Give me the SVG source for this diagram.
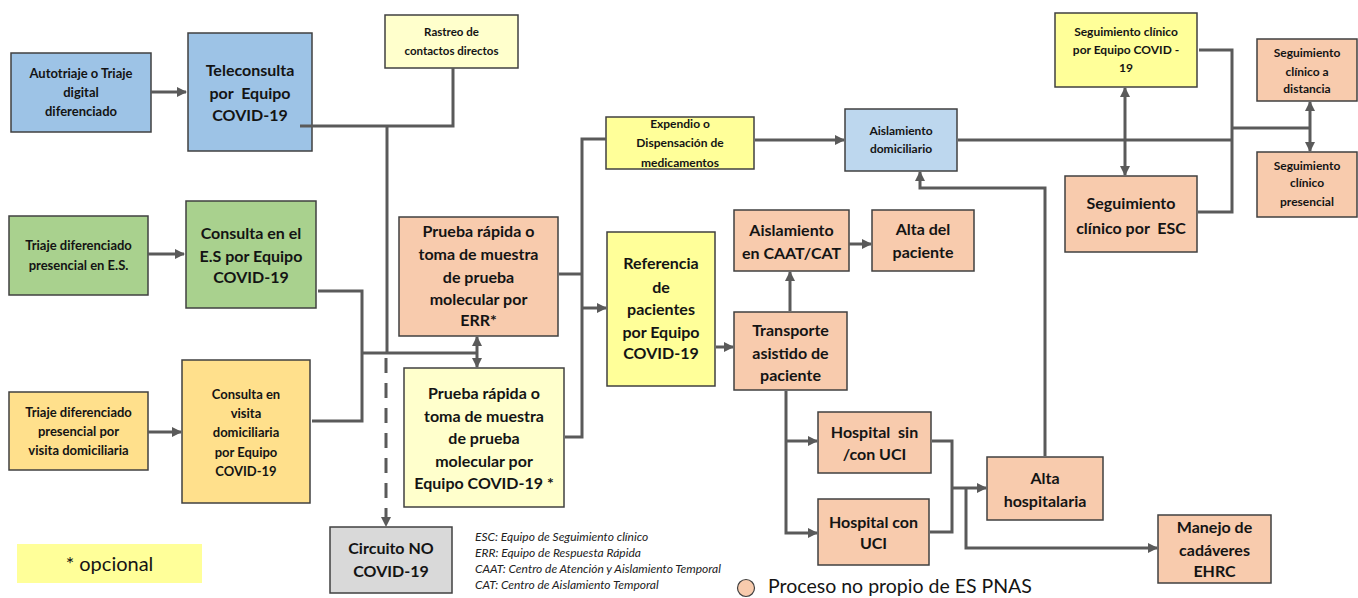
<svg xmlns="http://www.w3.org/2000/svg" width="1358" height="598" viewBox="0 0 1358 598">
<style>
.n{stroke:#404040;stroke-width:1.5}
.blue{fill:#9DC3E6}.lblue{fill:#BDD7EE}.green{fill:#A9D18E}.gold{fill:#FFE08C}
.ly{fill:#FFFFCC}.yel{fill:#FFFF99}.sal{fill:#F8CBAD}.gray{fill:#D9D9D9}
text{font-family:Lato,"Liberation Sans",Arial,sans-serif;font-weight:bold;fill:#141414;text-anchor:middle}
.f16{font-size:16px}.f13{font-size:13px}.f12{font-size:12px}.f11{font-size:11.5px}
.c{fill:none;stroke:#5A5A5A;stroke-width:3}
.a{marker-end:url(#ah)}
.d{marker-start:url(#ah);marker-end:url(#ah)}
.abbr{font-size:12px;font-style:italic;font-weight:normal;text-anchor:start;fill:#222}
</style>
<defs>
<marker id="ah" viewBox="0 0 10 10" refX="9" refY="5" markerWidth="10" markerHeight="10" markerUnits="userSpaceOnUse" orient="auto-start-reverse">
<path d="M0,0 L10,5 L0,10 z" fill="#5A5A5A"/>
</marker>
</defs>

<g id="autotriaje"><rect class="n blue" x="11" y="53" width="140" height="79"/>
<text class="f13"><tspan x="81" y="78">Autotriaje o Triaje</tspan><tspan x="81" y="97">digital</tspan><tspan x="81" y="116">diferenciado</tspan></text></g>

<g id="teleconsulta"><rect class="n blue" x="188" y="33" width="124" height="118"/>
<text class="f16"><tspan x="250" y="76">Teleconsulta</tspan><tspan x="250" y="99" xml:space="preserve">por  Equipo</tspan><tspan x="250" y="121">COVID-19</tspan></text></g>

<g id="rastreo"><rect class="n ly" x="385" y="15" width="133" height="53"/>
<text class="f11"><tspan x="451.5" y="36">Rastreo de</tspan><tspan x="451.5" y="55">contactos directos</tspan></text></g>

<g id="triaje-es"><rect class="n green" x="9" y="216" width="139" height="79"/>
<text class="f13"><tspan x="78.5" y="250">Triaje diferenciado</tspan><tspan x="78.5" y="270">presencial en E.S.</tspan></text></g>

<g id="consulta-es"><rect class="n green" x="186" y="201" width="130" height="107"/>
<text class="f16"><tspan x="251" y="239">Consulta en el</tspan><tspan x="251" y="262">E.S por Equipo</tspan><tspan x="251" y="283">COVID-19</tspan></text></g>

<g id="triaje-visita"><rect class="n gold" x="9" y="392" width="139" height="78"/>
<text class="f13"><tspan x="78.5" y="417">Triaje diferenciado</tspan><tspan x="78.5" y="436">presencial por</tspan><tspan x="78.5" y="455">visita domiciliaria</tspan></text></g>

<g id="consulta-visita"><rect class="n gold" x="182" y="360" width="128" height="143"/>
<text class="f13"><tspan x="246" y="399">Consulta en</tspan><tspan x="246" y="418">visita</tspan><tspan x="246" y="437">domiciliaria</tspan><tspan x="246" y="457">por Equipo</tspan><tspan x="246" y="476">COVID-19</tspan></text></g>

<g id="opcional"><rect x="17" y="544" width="185" height="39" fill="#FFFF99"/>
<text x="109.5" y="571" style="font-size:20px;font-weight:normal">* opcional</text></g>

<g id="circuito"><rect class="n gray" x="330" y="527" width="122" height="66"/>
<text class="f16"><tspan x="391" y="554">Circuito NO</tspan><tspan x="391" y="577">COVID-19</tspan></text></g>

<g id="prueba-err"><rect class="n sal" x="399" y="217" width="159" height="119"/>
<text class="f16"><tspan x="478.5" y="237">Prueba rápida o</tspan><tspan x="478.5" y="260">toma de muestra</tspan><tspan x="478.5" y="283">de prueba</tspan><tspan x="478.5" y="305">molecular por</tspan><tspan x="478.5" y="326">ERR*</tspan></text></g>

<g id="prueba-equipo"><rect class="n ly" x="404" y="368" width="160" height="139"/>
<text class="f16"><tspan x="484" y="399">Prueba rápida o</tspan><tspan x="484" y="422">toma de muestra</tspan><tspan x="484" y="444">de prueba</tspan><tspan x="484" y="467">molecular por</tspan><tspan x="484" y="489">Equipo COVID-19 *</tspan></text></g>

<g id="expendio"><rect class="n yel" x="606" y="117" width="148" height="52"/>
<text class="f12"><tspan x="680" y="128">Expendio o</tspan><tspan x="680" y="147">Dispensación de</tspan><tspan x="680" y="167">medicamentos</tspan></text></g>

<g id="referencia"><rect class="n yel" x="607" y="232" width="108" height="154"/>
<text class="f16"><tspan x="661" y="269">Referencia</tspan><tspan x="661" y="293">de</tspan><tspan x="661" y="315">pacientes</tspan><tspan x="661" y="338">por Equipo</tspan><tspan x="661" y="359">COVID-19</tspan></text></g>

<g id="aislamiento-caat"><rect class="n sal" x="734" y="210" width="115" height="61"/>
<text class="f16"><tspan x="791.5" y="236">Aislamiento</tspan><tspan x="791.5" y="259">en CAAT/CAT</tspan></text></g>

<g id="alta-paciente"><rect class="n sal" x="872" y="210" width="102" height="61"/>
<text class="f16"><tspan x="923" y="235">Alta del</tspan><tspan x="923" y="258">paciente</tspan></text></g>

<g id="transporte"><rect class="n sal" x="734" y="312" width="113" height="78"/>
<text class="f16"><tspan x="790.5" y="336">Transporte</tspan><tspan x="790.5" y="359">asistido de</tspan><tspan x="790.5" y="381">paciente</tspan></text></g>

<g id="aislamiento-dom"><rect class="n lblue" x="845" y="109" width="112" height="62"/>
<text class="f12"><tspan x="901" y="135">Aislamiento</tspan><tspan x="901" y="153">domiciliario</tspan></text></g>

<g id="seg-equipo"><rect class="n yel" x="1055" y="13" width="142" height="74"/>
<text class="f12"><tspan x="1126" y="36">Seguimiento clínico</tspan><tspan x="1126" y="54">por Equipo COVID -</tspan><tspan x="1126" y="72">19</tspan></text></g>

<g id="seg-esc"><rect class="n sal" x="1065" y="176" width="132" height="76"/>
<text class="f16"><tspan x="1131" y="209">Seguimiento</tspan><tspan x="1131" y="234" xml:space="preserve">clínico por  ESC</tspan></text></g>

<g id="seg-distancia"><rect class="n sal" x="1257" y="39" width="100" height="62"/>
<text class="f12"><tspan x="1307" y="57">Seguimiento</tspan><tspan x="1307" y="76">clínico a</tspan><tspan x="1307" y="93">distancia</tspan></text></g>

<g id="seg-presencial"><rect class="n sal" x="1257" y="152" width="100" height="65"/>
<text class="f12"><tspan x="1307" y="170">Seguimiento</tspan><tspan x="1307" y="187">clínico</tspan><tspan x="1307" y="206">presencial</tspan></text></g>

<g id="hospital-sin"><rect class="n sal" x="818" y="412" width="113" height="61"/>
<text class="f16"><tspan x="874.5" y="438" xml:space="preserve">Hospital  sin</tspan><tspan x="874.5" y="460">/con UCI</tspan></text></g>

<g id="hospital-con"><rect class="n sal" x="818" y="499" width="111" height="66"/>
<text class="f16"><tspan x="873.5" y="528">Hospital con</tspan><tspan x="873.5" y="549">UCI</tspan></text></g>

<g id="alta-hosp"><rect class="n sal" x="987" y="457" width="116" height="63"/>
<text class="f16"><tspan x="1045" y="484">Alta</tspan><tspan x="1045" y="507">hospitalaria</tspan></text></g>

<g id="manejo"><rect class="n sal" x="1158" y="515" width="113" height="68"/>
<text class="f16"><tspan x="1214.5" y="533">Manejo de</tspan><tspan x="1214.5" y="556">cadáveres</tspan><tspan x="1214.5" y="577">EHRC</tspan></text></g>

<g id="abreviaturas">
<text class="abbr" x="475" y="541">ESC: Equipo de Seguimiento clínico</text>
<text class="abbr" x="475" y="557">ERR: Equipo de Respuesta Rápida</text>
<text class="abbr" x="475" y="573">CAAT: Centro de Atención y Aislamiento Temporal</text>
<text class="abbr" x="475" y="589">CAT: Centro de Aislamiento Temporal</text>
</g>

<g id="leyenda">
<circle cx="746" cy="588" r="8.5" fill="#F8CBAD" stroke="#404040" stroke-width="1.2"/>
<text x="768" y="593" style="font-size:19.5px;font-weight:normal;text-anchor:start">Proceso no propio de ES PNAS</text>
</g>

<g id="connectors">
<path class="c a" d="M151,92 H186"/>
<path class="c a" d="M148,254 H184"/>
<path class="c a" d="M148,432 H181"/>
<path class="c" d="M300,126 H453 V68"/>
<path class="c" d="M387,126 V354"/>
<path class="c a" d="M386,358 V526" stroke-dasharray="15,10"/>
<path class="c" d="M318,291 H362 V421 H312"/>
<path class="c" d="M362,353 H477"/>
<path class="c d" d="M477,337 V367"/>
<path class="c" d="M559,274 H582"/>
<path class="c" d="M606,139 H582 V437 H565"/>
<path class="c a" d="M582,308 H606"/>
<path class="c a" d="M755,140 H844"/>
<path class="c" d="M958,140 H1232"/>
<path class="c" d="M1199,50 H1232 V212 H1198"/>
<path class="c" d="M1232,128 H1310"/>
<path class="c d" d="M1310,102 V151"/>
<path class="c d" d="M1125,88 V175"/>
<path class="c a" d="M716,347 H733"/>
<path class="c a" d="M790,311 V272"/>
<path class="c a" d="M849,244 H871"/>
<path class="c a" d="M786,391 V533 H817"/>
<path class="c a" d="M786,441 H817"/>
<path class="c" d="M932,441 H952 V532 H930"/>
<path class="c a" d="M952,488 H986"/>
<path class="c a" d="M966,488 V548 H1157"/>
<path class="c a" d="M1045,456 V188 H920 V172"/>
</g>
</svg>
